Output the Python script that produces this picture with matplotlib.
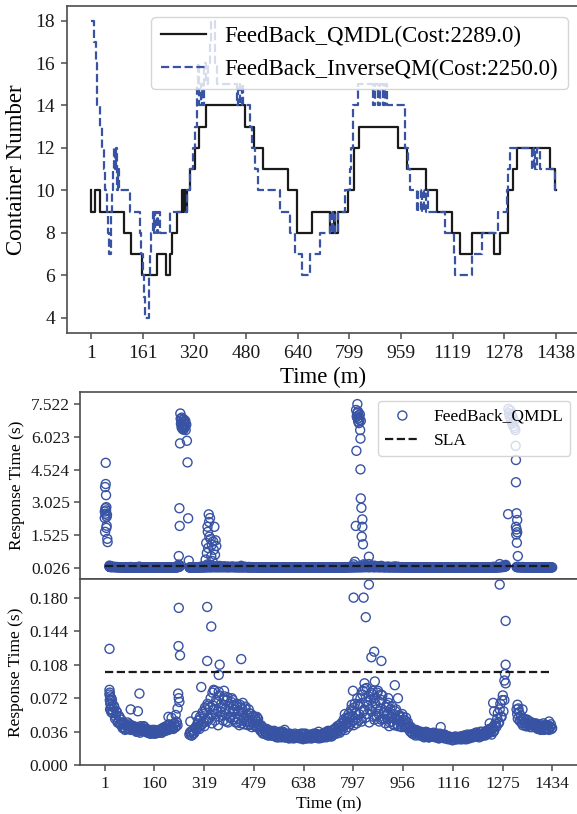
import numpy as np
import matplotlib
matplotlib.use("Agg")
import matplotlib.pyplot as plt

plt.rcParams['font.family'] = ['Liberation Serif', 'DejaVu Serif']

nan = float('nan')
blue = '#3853a4'
edge = '0.3'

# ---------------- container numbers (minute of change, new value) ----------------
qmdl_t = [1, 2, 13, 30, 102, 125, 159, 205, 234, 244, 251, 267, 282, 286, 290, 294, 297,
          308, 323, 336, 358, 478, 506, 532, 609, 637, 684, 740, 752, 756, 766, 797, 814,
          829, 951, 978, 1038, 1072, 1117, 1141, 1179, 1246, 1267, 1292, 1305, 1318, 1419,
          1435, 1438]
qmdl_n = [10, 9, 10, 9, 8, 7, 6, 7, 6, 7, 8, 9, 10, 9, 10, 9, 10,
          11, 12, 13, 14, 13, 12, 11, 10, 8, 9, 8, 9, 8, 9, 10, 12,
          13, 12, 11, 10, 9, 8, 7, 8, 7, 8, 10, 11, 12, 11,
          10, 10]

inv_t = [1, 10, 17, 21, 29, 35, 40, 45, 50, 55, 58, 63, 66, 68, 71, 76, 79, 83, 86, 89,
         122, 153, 157, 161, 166, 169, 179, 183, 188, 192, 196, 200, 205, 209, 214, 246,
         298, 308, 318, 323, 329, 332, 336, 340, 345, 350, 356, 362, 370, 373, 385, 390,
         452, 456, 462, 468, 472, 493, 500, 508, 519, 586, 617, 632, 653, 679, 709, 740,
         745, 750, 756, 766, 787, 802, 806, 812, 828, 874, 880, 888, 894, 905, 910, 916,
         972, 982, 987, 1008, 1013, 1020, 1026, 1032, 1037, 1042, 1096, 1122, 1127, 1178,
         1209, 1261, 1287, 1292, 1298, 1366, 1370, 1375, 1380, 1388, 1436, 1438]
inv_n = [18, 17, 16, 14, 13, 12, 11, 10, 9, 8, 7, 9, 10, 11, 12, 11, 12, 10, 11, 10,
         9, 8, 7, 6, 5, 4, 6, 7, 8, 9, 8, 9, 8, 9, 8, 9,
         10, 11, 12, 13, 15, 16, 14, 15, 14, 16, 15, 16, 17, 18, 16, 15,
         14, 15, 14, 15, 14, 13, 12, 11, 10, 9, 8, 7, 6, 7, 8, 9,
         8, 9, 8, 9, 10, 11, 12, 14, 15, 14, 15, 14, 15, 14, 15, 14,
         12, 11, 10, 9, 10, 9, 10, 9, 10, 9, 8, 7, 6, 7,
         8, 9, 10, 11, 12, 11, 12, 11, 12, 11, 10, 10]

top_xticks = [1, 161, 320, 480, 640, 799, 959, 1119, 1278, 1438]
top_yticks = [4, 6, 8, 10, 12, 14, 16, 18]

# ---------------- response times ----------------
# two interleaved sample runs, every 4 minutes from minute 16 and 18 (nan = no sample)
band_start_a, band_start_b, band_step = 16, 18, 4
band_rt_a = [
    0.076, 0.066, 0.070, 0.058, 0.062, 0.052, 0.057, 0.047, 0.052, 0.045,
    0.046, 0.041, 0.045, 0.039, 0.043, 0.040, 0.044, 0.038, 0.042, 0.040,
    0.041, 0.038, 0.040, 0.036, 0.039, 0.042, 0.037, 0.039, 0.041, 0.036,
    0.037, 0.035, 0.038, 0.034, 0.036, 0.035, 0.038, 0.034, 0.037, 0.035,
    0.036, 0.038, 0.035, 0.039, 0.041, 0.037, 0.040, 0.038, 0.043, 0.039,
    0.042, 0.039, 0.045, 0.041, 0.046, nan, nan, nan, nan, nan,
    nan, nan, nan, nan, 0.033, 0.036, 0.032, 0.038, 0.035, 0.041,
    0.040, 0.048, 0.039, 0.050, 0.044, 0.055, 0.042, 0.060, 0.047, 0.064,
    0.050, 0.072, 0.045, 0.064, 0.080, 0.055, 0.068, 0.043, 0.075, 0.058,
    0.062, 0.048, 0.074, 0.055, 0.070, 0.046, 0.066, 0.052, 0.072, 0.049,
    0.060, 0.046, 0.066, 0.050, 0.043, 0.062, 0.048, 0.056, 0.044, 0.063,
    0.050, 0.043, 0.056, 0.046, 0.041, 0.053, 0.045, 0.049, 0.042, 0.050,
    0.042, 0.037, 0.041, 0.034, 0.038, 0.035, 0.039, 0.032, 0.036, 0.034,
    0.035, 0.032, 0.037, 0.033, 0.030, 0.035, 0.032, 0.034, 0.030, 0.036,
    0.032, 0.030, 0.034, 0.031, 0.029, 0.033, 0.030, 0.032, 0.029, 0.031,
    0.031, 0.033, 0.029, 0.031, 0.030, 0.028, 0.031, 0.034, 0.029, 0.030,
    0.030, 0.033, 0.029, 0.031, 0.030, 0.034, 0.031, 0.029, 0.033, 0.030,
    0.032, 0.030, 0.035, 0.032, 0.034, 0.037, 0.032, 0.035, 0.031, 0.038,
    0.035, 0.040, 0.034, 0.038, 0.043, 0.037, 0.042, 0.039, 0.047, 0.038,
    0.045, 0.041, 0.052, 0.044, 0.058, 0.048, 0.062, 0.050, 0.045, 0.065,
    0.055, 0.072, 0.047, 0.080, 0.060, 0.051, 0.083, 0.064, 0.046, 0.070,
    0.058, 0.076, 0.049, 0.066, 0.053, 0.080, 0.047, 0.061, 0.070, 0.050,
    0.056, 0.045, 0.065, 0.050, 0.042, 0.060, 0.047, 0.055, 0.043, 0.058,
    0.050, 0.042, 0.054, 0.046, 0.041, 0.052, 0.044, 0.048, 0.041, 0.046,
    0.040, 0.036, 0.039, 0.034, 0.037, 0.032, 0.035, 0.037, 0.032, 0.034,
    0.032, 0.035, 0.030, 0.034, 0.031, 0.035, 0.030, 0.032, 0.034, 0.031,
    0.033, 0.030, 0.034, 0.031, 0.029, 0.032, 0.030, 0.033, 0.029, 0.031,
    0.030, 0.028, 0.031, 0.029, 0.030, 0.027, 0.029, 0.031, 0.028, 0.029,
    0.029, 0.031, 0.028, 0.030, 0.032, 0.029, 0.028, 0.031, 0.030, 0.033,
    0.032, 0.030, 0.034, 0.031, 0.035, 0.032, 0.030, 0.036, 0.033, 0.032,
    0.035, 0.032, 0.037, 0.034, 0.039, 0.036, 0.033, 0.041, 0.037, 0.045,
    0.042, 0.056, 0.046, 0.066, 0.052, 0.075, nan, nan, nan, nan,
    nan, nan, nan, nan, nan, nan, 0.060, 0.050, 0.057, 0.047,
    0.049, 0.043, 0.050, 0.045, 0.042, 0.048, 0.044, 0.041, 0.046, 0.043,
    0.045, 0.041, 0.043, 0.039, 0.042, 0.044, 0.040, 0.042, 0.038, 0.043,
    0.040, 0.043, 0.038, 0.041, 0.039,
]
band_rt_b = [
    0.060, 0.072, 0.056, 0.064, 0.050, 0.058, 0.046, 0.053, 0.044, 0.049,
    0.040, 0.044, 0.038, 0.042, 0.046, 0.039, 0.041, 0.043, 0.039, 0.042,
    0.039, 0.036, 0.041, 0.038, 0.035, 0.040, 0.038, 0.042, 0.037, 0.039,
    0.035, 0.037, 0.034, 0.036, 0.038, 0.034, 0.036, 0.037, 0.035, 0.038,
    0.038, 0.035, 0.040, 0.037, 0.039, 0.042, 0.038, 0.044, 0.040, 0.041,
    0.040, 0.044, 0.041, 0.047, 0.043, nan, nan, nan, nan, nan,
    nan, nan, nan, nan, 0.035, 0.032, 0.037, 0.034, 0.040, 0.038,
    0.045, 0.041, 0.052, 0.043, 0.057, 0.046, 0.062, 0.049, 0.066, 0.051,
    0.062, 0.054, 0.078, 0.060, 0.048, 0.070, 0.058, 0.079, 0.052, 0.066,
    0.054, 0.070, 0.060, 0.047, 0.073, 0.058, 0.051, 0.068, 0.057, 0.064,
    0.052, 0.064, 0.046, 0.058, 0.065, 0.045, 0.060, 0.050, 0.061, 0.047,
    0.054, 0.047, 0.044, 0.055, 0.049, 0.043, 0.052, 0.041, 0.047, 0.044,
    0.039, 0.043, 0.035, 0.040, 0.036, 0.033, 0.038, 0.035, 0.032, 0.037,
    0.032, 0.036, 0.031, 0.034, 0.033, 0.030, 0.036, 0.031, 0.035, 0.032,
    0.030, 0.033, 0.031, 0.029, 0.034, 0.032, 0.029, 0.031, 0.034, 0.030,
    0.033, 0.030, 0.031, 0.034, 0.029, 0.030, 0.033, 0.029, 0.031, 0.029,
    0.032, 0.029, 0.031, 0.034, 0.032, 0.030, 0.033, 0.031, 0.029, 0.032,
    0.030, 0.034, 0.032, 0.030, 0.036, 0.033, 0.031, 0.037, 0.034, 0.033,
    0.039, 0.036, 0.042, 0.040, 0.035, 0.045, 0.041, 0.049, 0.043, 0.051,
    0.050, 0.055, 0.046, 0.060, 0.053, 0.043, 0.066, 0.056, 0.072, 0.048,
    0.066, 0.050, 0.076, 0.058, 0.082, 0.068, 0.055, 0.074, 0.060, 0.078,
    0.064, 0.052, 0.072, 0.060, 0.078, 0.055, 0.068, 0.049, 0.075, 0.057,
    0.050, 0.062, 0.054, 0.067, 0.046, 0.052, 0.063, 0.044, 0.050, 0.060,
    0.044, 0.053, 0.048, 0.042, 0.055, 0.049, 0.041, 0.051, 0.044, 0.042,
    0.037, 0.041, 0.034, 0.038, 0.035, 0.038, 0.033, 0.036, 0.034, 0.036,
    0.034, 0.031, 0.033, 0.036, 0.032, 0.030, 0.034, 0.031, 0.033, 0.035,
    0.031, 0.033, 0.030, 0.029, 0.034, 0.030, 0.032, 0.030, 0.033, 0.029,
    0.031, 0.029, 0.028, 0.030, 0.027, 0.029, 0.030, 0.028, 0.030, 0.028,
    0.030, 0.028, 0.031, 0.029, 0.028, 0.031, 0.033, 0.030, 0.029, 0.032,
    0.033, 0.031, 0.032, 0.035, 0.031, 0.034, 0.033, 0.031, 0.036, 0.034,
    0.033, 0.036, 0.034, 0.038, 0.035, 0.038, 0.040, 0.036, 0.043, 0.041,
    0.050, 0.045, 0.060, 0.052, 0.070, 0.058, nan, nan, nan, nan,
    nan, nan, nan, nan, nan, nan, 0.055, 0.061, 0.048, 0.053,
    0.045, 0.050, 0.046, 0.042, 0.049, 0.043, 0.047, 0.044, 0.041, 0.045,
    0.042, 0.045, 0.040, 0.043, 0.039, 0.038, 0.042, 0.045, 0.040, 0.039,
    0.043, 0.039, 0.042, 0.044, 0.040,
]

# scattered requests above the main band (below 0.2 s)
extra_t = [16, 16, 17, 18, 17, 19, 20, 22, 24, 84, 107, 112, 205, 215, 228,
           238, 237, 242, 236, 238, 240, 234,
           275, 294, 310, 329, 342, 329, 369, 366, 438, 350, 383, 411, 443, 462, 488,
           577, 636, 686,
           798, 830, 847, 837, 864, 855, 887, 796, 792, 770, 833, 866, 859, 930, 940,
           909, 886, 1077,
           1266, 1285, 1285, 1283, 1281, 1285, 1281, 1245, 1248, 1234, 1323, 1339, 1424]
extra_rt = [0.125, 0.081, 0.078, 0.074, 0.070, 0.066, 0.060, 0.057, 0.063, 0.060, 0.058,
            0.077, 0.052, 0.051, 0.054,
            0.169, 0.128, 0.118, 0.077, 0.072, 0.068, 0.061,
            0.047, 0.053, 0.084, 0.170, 0.149, 0.112, 0.108, 0.097, 0.114, 0.081, 0.080,
            0.070, 0.067, 0.060, 0.052,
            0.038, 0.034, 0.036,
            0.180, 0.180, 0.194, 0.159, 0.122, 0.116, 0.112, 0.080, 0.065, 0.055, 0.088,
            0.090, 0.080, 0.086, 0.072, 0.072, 0.076, 0.041,
            0.194, 0.155, 0.108, 0.098, 0.091, 0.088, 0.070, 0.067, 0.058, 0.045, 0.065,
            0.060, 0.047]

# slow-response bursts
spike_t = [1, 1, 2, 2, 3, 3, 4, 4, 5, 5, 6, 6, 7, 7, 8, 9, 10,
           238, 240, 241, 242, 243, 244, 245, 246, 247, 248, 249, 250, 251, 252, 253,
           254, 255, 256, 257, 258, 259, 260, 262, 264, 266, 268, 270,
           324, 326, 328, 330, 331, 332, 334, 335, 336, 338, 340, 342, 344, 346, 348,
           350, 352, 354, 356, 358,
           802, 805, 806, 807, 808, 809, 810, 811, 812, 813, 814, 815, 816, 817, 818,
           819, 820, 820, 821, 821, 823, 826, 826, 824, 828, 847,
           1293, 1294, 1296, 1298, 1300, 1302, 1304, 1306, 1308, 1310, 1312, 1314, 1316,
           1317, 1318, 1318, 1320, 1322, 1318, 1320, 1322, 1319, 1321, 1324]
spike_rt = [2.60, 2.30, 3.72, 1.67, 2.75, 2.50, 4.83, 3.86, 3.35, 2.65, 2.80, 1.85,
            2.36, 1.95, 2.45, 1.35, 1.20,
            0.56, 2.75, 1.94, 5.72, 7.09, 6.85, 6.62, 6.78, 6.45, 6.90, 6.55, 6.38, 6.70,
            6.50, 6.35, 6.82, 6.60, 6.42, 6.68, 6.48, 6.75, 6.33, 6.58, 5.84, 4.85, 2.29,
            0.35,
            0.40, 1.16, 0.70, 1.90, 1.67, 0.93, 2.47, 2.12, 1.45, 2.30, 1.34, 0.55, 1.08,
            0.33, 1.23, 0.85, 1.90, 0.62, 1.28, 1.02,
            0.30, 1.94, 7.25, 5.38, 6.95, 7.10, 7.52, 6.85, 7.18, 6.72, 7.00, 6.65, 6.90,
            6.80, 7.05, 6.33, 5.94, 4.53, 6.75, 3.20, 2.77, 2.24, 1.90, 1.45, 1.10, 0.53,
            2.48, 7.30, 7.10, 6.95, 7.22, 6.80, 7.05, 6.62, 6.90, 6.50, 6.75, 6.42, 6.33,
            5.61, 4.96, 3.94, 2.52, 2.21, 1.90, 1.78, 1.65, 1.55, 1.17, 0.56]

sla_rt = 0.1
rt_first, rt_last = 1, 1434
mid_yticks = [0.026, 1.525, 3.025, 4.524, 6.023, 7.522]
low_yticks = [0.000, 0.036, 0.072, 0.108, 0.144, 0.180]
low_xticks = [1, 160, 319, 479, 638, 797, 956, 1116, 1275, 1434]

band_t_a = band_start_a + band_step * np.arange(len(band_rt_a))
band_t_b = band_start_b + band_step * np.arange(len(band_rt_b))
all_t = np.concatenate([band_t_a, band_t_b, extra_t, spike_t])
all_rt = np.concatenate([band_rt_a, band_rt_b, extra_rt, spike_rt])
ok = ~np.isnan(all_rt)
all_t, all_rt = all_t[ok], all_rt[ok]

W, H = 577, 814
fig = plt.figure(figsize=(W / 100, H / 100), dpi=100)


def style_axes(ax, labelsize, pad=3):
    for s in ax.spines.values():
        s.set_color(edge)
        s.set_linewidth(1.2)
    ax.tick_params(direction='out', length=4, width=1.1, color=edge,
                   labelsize=labelsize, labelcolor='#1a1a1a', pad=pad)


# ---------------- top: container numbers ----------------
ax1 = fig.add_axes([67 / W, 1 - 332.7 / H, (579 - 67) / W, (332.7 - 5.7) / H])
ax1.plot(qmdl_t, qmdl_n, drawstyle='steps-post', color='#1a1a1a', lw=1.6,
         label='FeedBack_QMDL(Cost:2289.0)')
ax1.plot(inv_t, inv_n, drawstyle='steps-post', color=blue, ls='--', lw=1.6,
         label='FeedBack_InverseQM(Cost:2250.0)')
ax1.set_xlim(-73, 1510)
ax1.set_ylim(3.3, 18.7)
ax1.set_xticks(top_xticks)
ax1.set_yticks(top_yticks)
style_axes(ax1, 14, pad=4.5)
ax1.set_xlabel('Time (m)', fontsize=16.5, labelpad=4)
ax1.set_ylabel('Container Number', fontsize=16.5, labelpad=6)
leg1 = ax1.legend(loc='upper right', fontsize=16.5, fancybox=True, framealpha=0.8,
                  borderaxespad=0.5, handlelength=2.0)
leg1.get_frame().set_edgecolor('#cccccc')

# ---------------- middle: full range of response times ----------------
ax2 = fig.add_axes([79.5 / W, 1 - 579 / H, (579 - 79.5) / W, (579 - 392.3) / H])
ax2.scatter(all_t, all_rt, s=42, facecolors='none', edgecolors=blue, linewidths=1.0,
            label='FeedBack_QMDL')
ax2.plot([rt_first, rt_last], [sla_rt, sla_rt], color='#1a1a1a', ls='--', lw=1.6,
         label='SLA')
ax2.set_xlim(-80, 1520)
ax2.set_ylim(-0.49, 8.06)
ax2.set_yticks(mid_yticks)
ax2.yaxis.set_major_formatter(plt.FormatStrFormatter('%.3f'))
ax2.set_xticks(low_xticks)
style_axes(ax2, 12.5)
ax2.tick_params(axis='x', bottom=False, labelbottom=False)
ax2.set_ylabel('Response Time (s)', fontsize=12.5)
leg2 = ax2.legend(loc='upper right', fontsize=12.5, fancybox=True, framealpha=0.8,
                  borderaxespad=0.5, scatterpoints=1)
leg2.get_frame().set_edgecolor('#cccccc')

# ---------------- bottom: zoom on the low range ----------------
ax3 = fig.add_axes([79.5 / W, 1 - 765.3 / H, (579 - 79.5) / W, (765.3 - 579) / H])
ax3.scatter(all_t, all_rt, s=42, facecolors='none', edgecolors=blue, linewidths=1.0)
ax3.plot([rt_first, rt_last], [sla_rt, sla_rt], color='#1a1a1a', ls='--', lw=1.6)
ax3.set_xlim(-80, 1520)
ax3.set_ylim(0, 0.2)
ax3.set_yticks(low_yticks)
ax3.yaxis.set_major_formatter(plt.FormatStrFormatter('%.3f'))
ax3.set_xticks(low_xticks)
style_axes(ax3, 12.5, pad=4)
ax3.set_xlabel('Time (m)', fontsize=12.5, labelpad=3)
ax3.set_ylabel('Response Time (s)', fontsize=12.5)

fig.savefig('out.png', dpi=100)
